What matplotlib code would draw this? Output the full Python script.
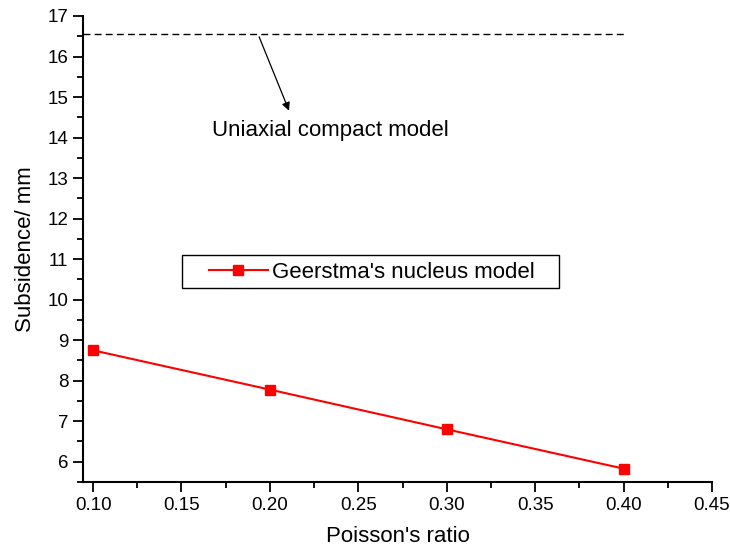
import matplotlib
matplotlib.use("Agg")
from matplotlib import pyplot as plt
from matplotlib.ticker import MultipleLocator
from matplotlib.patches import Rectangle

plt.rcParams['font.family'] = ['Liberation Sans', 'DejaVu Sans']

poisson = [0.10, 0.20, 0.30, 0.40]
geertsma = [8.75, 7.78, 6.80, 5.83]
uniaxial = 16.55

fig = plt.figure(figsize=(7.3, 5.48), dpi=100)
ax = fig.add_axes([83/730, 1 - 482/548, (712-83)/730, (482-16)/548])

ax.plot(poisson, geertsma, color='red', marker='s', markersize=7.5, lw=1.5,
        label="Geerstma's nucleus model")
ax.plot([0.0943, 0.40], [uniaxial, uniaxial], color='black', lw=1, ls=(0, (5, 3)))

ax.annotate('Uniaxial compact model', xy=(0.2114, 14.62), xytext=(0.1675, 14.17),
            fontsize=16, va='center', ha='left')
ax.annotate('', xy=(0.2114, 14.60), xytext=(0.1933, uniaxial),
            arrowprops=dict(arrowstyle='-|>', color='black', lw=0.9, mutation_scale=12))

ax.set_xlim(0.0943, 0.45)
ax.set_ylim(5.5, 17)
ax.xaxis.set_minor_locator(MultipleLocator(0.025))
ax.yaxis.set_major_locator(MultipleLocator(1))
ax.yaxis.set_minor_locator(MultipleLocator(0.5))
ax.set_xticks([0.10, 0.15, 0.20, 0.25, 0.30, 0.35, 0.40, 0.45])
ax.set_xticklabels(['0.10', '0.15', '0.20', '0.25', '0.30', '0.35', '0.40', '0.45'])

for s in ['top', 'right']:
    ax.spines[s].set_visible(False)
for s in ['left', 'bottom']:
    ax.spines[s].set_linewidth(1.5)
ax.tick_params(which='major', direction='out', length=7, width=1.3, labelsize=13.5)
ax.tick_params(which='minor', direction='out', length=4, width=1.3)

ax.set_xlabel("Poisson's ratio", fontsize=16, labelpad=9)
ax.set_ylabel("Subsidence/ mm", fontsize=16, labelpad=8)

# legend box drawn separately so it can be wider than its entry
ax.add_patch(Rectangle(((182-83)/629, 1 - (288-16)/466), 377/629, 33/466,
                       transform=ax.transAxes, fill=False, edgecolor='black', lw=1))
leg = ax.legend(loc='center left', bbox_to_anchor=((209-83)/629, 1 - (272-16)/466),
                fontsize=16, frameon=False, borderpad=0, borderaxespad=0,
                handlelength=2.65, handletextpad=0.2)

fig.savefig('out.png', dpi=100)
